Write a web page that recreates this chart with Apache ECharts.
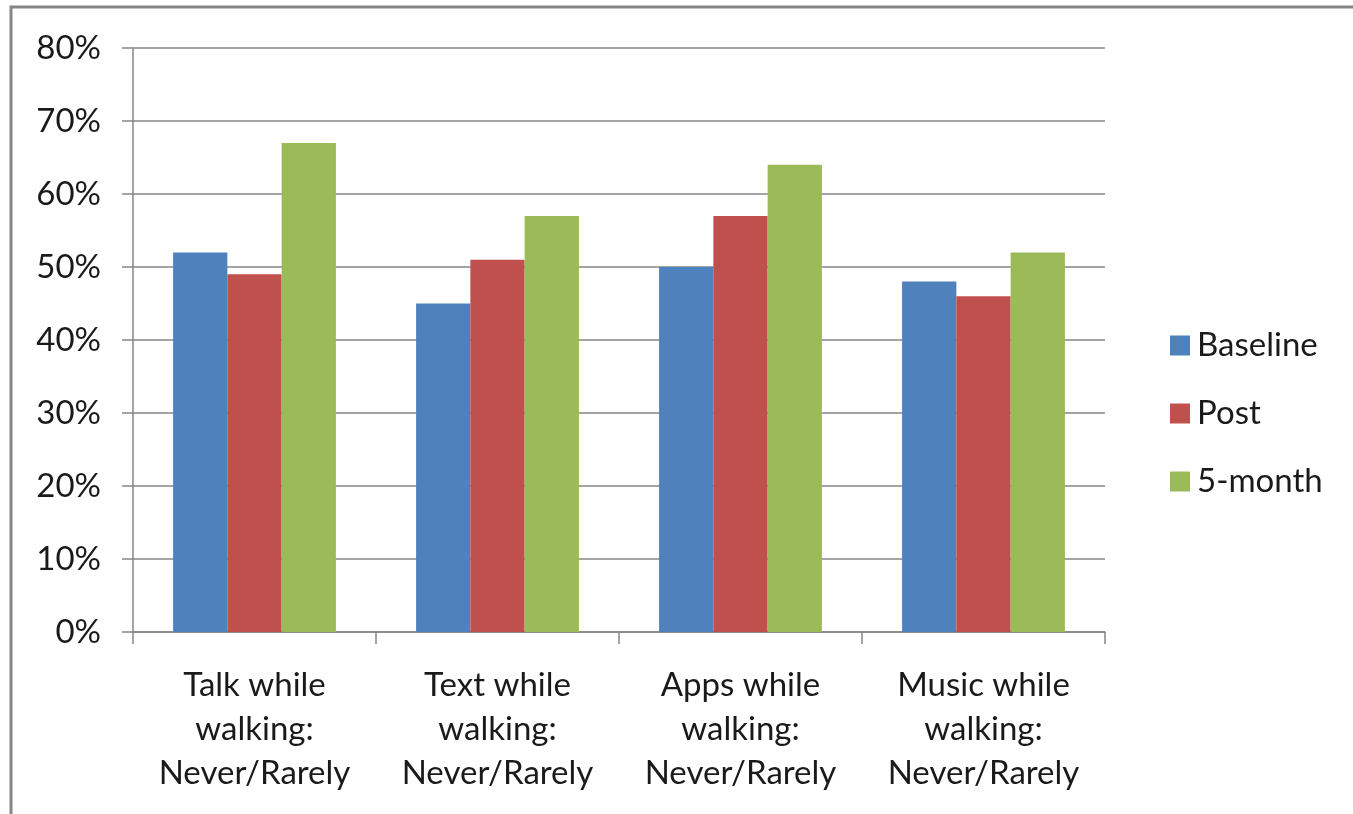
<!DOCTYPE html>
<html>
<head>
<meta charset="utf-8">
<script src="https://cdn.jsdelivr.net/npm/echarts@6/dist/echarts.min.js"></script>
<style>
  html, body { margin: 0; padding: 0; background: #fff; }
  #chart { width: 1353px; height: 814px; }
</style>
</head>
<body>
<div id="chart"></div>
<script>
// Share of respondents reporting "Never/Rarely" for each behaviour
const categories = [
  'Talk while\nwalking:\nNever/Rarely',
  'Text while\nwalking:\nNever/Rarely',
  'Apps while\nwalking:\nNever/Rarely',
  'Music while\nwalking:\nNever/Rarely'
];
const seriesNames = ['Baseline', 'Post', '5-month'];
const baseline = [52, 45, 50, 48];
const post = [49, 51, 57, 46];
const fiveMonth = [67, 57, 64, 52];
const seriesColors = ['#4f81bd', '#c0504d', '#9bbb59'];

const fontFamily = 'Lato, "Open Sans", sans-serif';
const axisGray = '#868686';
const textColor = '#1a1a1a';

const chart = echarts.init(document.getElementById('chart'));
const values = [baseline, post, fiveMonth];

chart.setOption({
  animation: false,
  graphic: [{
    type: 'rect',
    shape: { x: 11, y: 7, width: 1400, height: 900 },
    style: { fill: 'none', stroke: axisGray, lineWidth: 3 },
    silent: true
  }],
  grid: { left: 133, right: 248, top: 48, bottom: 182 },
  legend: {
    orient: 'vertical',
    left: 1165,
    top: 324,
    itemWidth: 20,
    itemHeight: 20,
    itemGap: 35,
    icon: 'rect',
    textStyle: { fontFamily, fontSize: 33, color: textColor, padding: [0, 0, 0, 2] },
    data: seriesNames
  },
  xAxis: {
    type: 'category',
    data: categories,
    axisLine: { lineStyle: { color: axisGray, width: 1.5 } },
    axisTick: { show: true, length: 12, lineStyle: { color: axisGray, width: 1.5 } },
    axisLabel: {
      fontFamily, fontSize: 33, color: textColor, lineHeight: 44, margin: 31,
      interval: 0
    }
  },
  yAxis: {
    type: 'value',
    min: 0, max: 80, interval: 10,
    axisLine: { show: true, lineStyle: { color: axisGray, width: 1.5 } },
    axisTick: { show: true, length: 11, lineStyle: { color: axisGray, width: 1.5 } },
    splitLine: { lineStyle: { color: axisGray, width: 1.5 } },
    axisLabel: {
      fontFamily, fontSize: 33, color: textColor, margin: 32,
      formatter: v => v + '%'
    }
  },
  series: seriesNames.map((name, i) => ({
    name,
    type: 'bar',
    data: values[i],
    barGap: '0%',
    barCategoryGap: '33%',
    itemStyle: { color: seriesColors[i] }
  }))
});
</script>
</body>
</html>
